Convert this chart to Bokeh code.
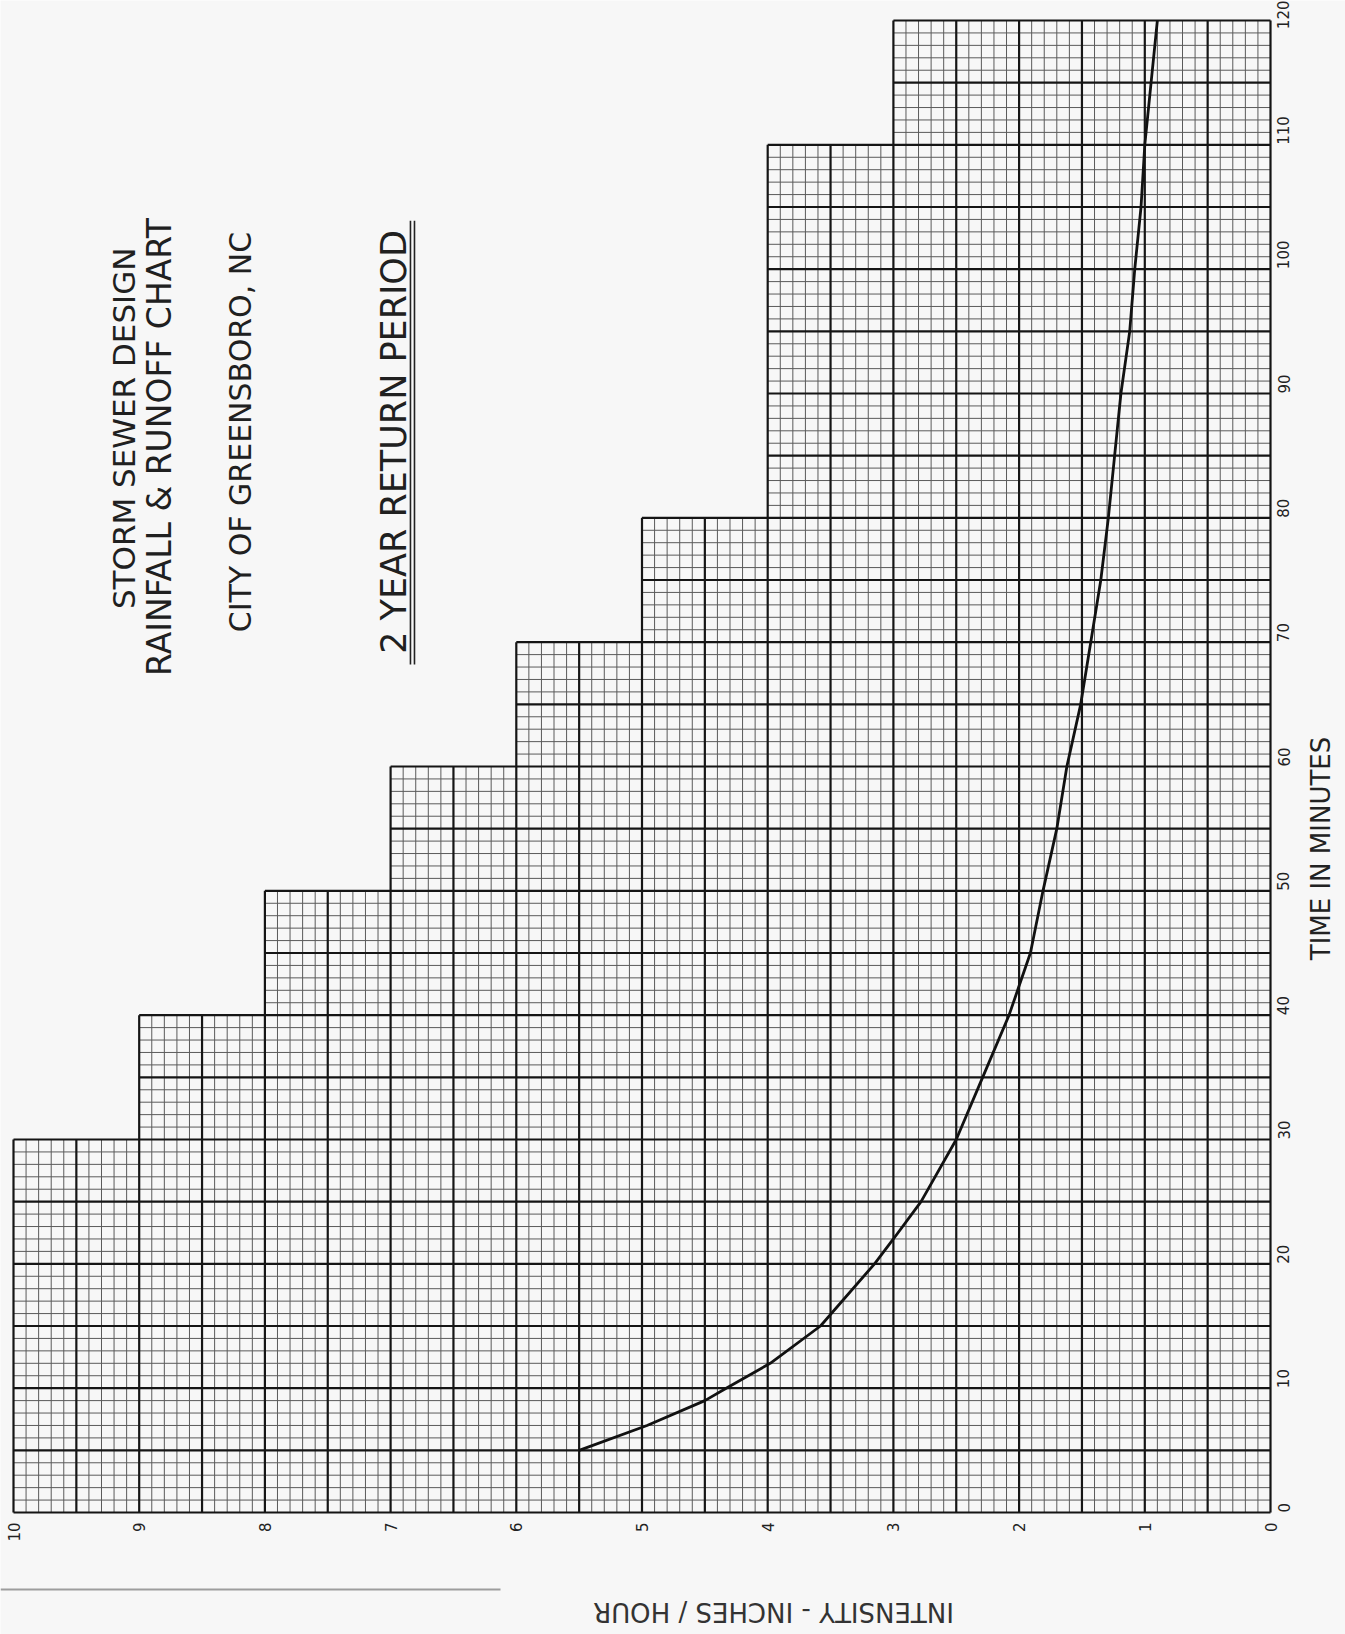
from math import pi
from bokeh.plotting import figure
from bokeh.models import (Range1d, FixedTicker, Label, ColumnDataSource,
                          BoxAnnotation, LinearAxis)
from bokeh.embed import file_html
from bokeh.resources import INLINE

# ---- data ----
time_min = [5, 7, 9, 10, 12, 15, 20, 22, 25, 30, 35, 40, 45, 50, 55, 60,
            65, 70, 75, 80, 85, 90, 95, 100, 105, 110, 115, 120]
intensity = [5.50, 4.96, 4.50, 4.33, 3.98, 3.58, 3.15, 3.00, 2.78, 2.50, 2.29,
             2.08, 1.91, 1.81, 1.70, 1.62, 1.51, 1.43, 1.35, 1.29, 1.24, 1.19,
             1.12, 1.08, 1.03, 1.00, 0.95, 0.90]

# stair-stepped graph-paper columns (intensity band -> longest time printed)
col_low = [0, 3, 4, 5, 6, 7, 8, 9]
col_high = [3, 4, 5, 6, 7, 8, 9, 10]
col_top = [120, 110, 80, 70, 60, 50, 40, 30]

x_ticks = [0, 1, 2, 3, 4, 5, 6, 7, 8, 9, 10]
y_ticks = [0, 10, 20, 30, 40, 50, 60, 70, 80, 90, 100, 110, 120]

title_lines = ["STORM SEWER DESIGN", "RAINFALL & RUNOFF CHART",
               "CITY OF GREENSBORO, NC", "2 YEAR RETURN PERIOD"]
time_title = "TIME IN MINUTES"
intensity_title = "INTENSITY - INCHES / HOUR"

# ---- build grid segments from the column table ----
def top_at(k):
    return max(t for lo, hi, t in zip(col_low, col_high, col_top)
               if lo * 10 <= k <= hi * 10)

def right_edge(m):
    return max(hi for hi, t in zip(col_high, col_top) if t >= m)

minor = dict(x0=[], y0=[], x1=[], y1=[])
major = dict(x0=[], y0=[], x1=[], y1=[])
for k in range(0, 101):
    d = major if k % 5 == 0 else minor
    d["x0"].append(k / 10); d["x1"].append(k / 10)
    d["y0"].append(0); d["y1"].append(top_at(k))
for m in range(0, max(col_top) + 1):
    d = major if m % 5 == 0 else minor
    d["x0"].append(0); d["x1"].append(right_edge(m))
    d["y0"].append(m); d["y1"].append(m)

# ---- page geometry: the scanned sheet fills the whole canvas ----
W, H = 1345, 1634
grid_left, grid_right, grid_top, grid_bottom = 13, 1270, 20, 1512
ux = (grid_right - grid_left) / 10.0     # px per in/hr
uy = (grid_bottom - grid_top) / 120.0    # px per minute
x_range = Range1d(10 + grid_left / ux, 10 - (W - grid_left) / ux)
y_range = Range1d(-(H - grid_bottom) / uy, 120 + grid_top / uy)

paper = "#f7f7f7"
ink = "#151515"

p = figure(width=W, height=H, x_range=x_range, y_range=y_range,
           output_backend="svg", toolbar_location=None,
           x_axis_location=None, y_axis_location=None,
           min_border=0)
p.background_fill_color = paper
p.border_fill_color = paper
p.outline_line_color = None
p.grid.visible = False

p.segment(x0="x0", y0="y0", x1="x1", y1="y1", source=ColumnDataSource(minor),
          line_color="#5a5a5a", line_width=1.0)
p.segment(x0="x0", y0="y0", x1="x1", y1="y1", source=ColumnDataSource(major),
          line_color=ink, line_width=2.2)

p.line(intensity, time_min, line_color="#111111", line_width=2.8)

xax = LinearAxis(fixed_location=0, ticker=FixedTicker(ticks=x_ticks))
yax = LinearAxis(fixed_location=0, ticker=FixedTicker(ticks=y_ticks))
for ax, standoff in ((xax, 10), (yax, 13)):
    ax.major_label_orientation = pi / 2
    ax.major_tick_line_color = None
    ax.minor_tick_line_color = None
    ax.major_tick_out = 0
    ax.major_tick_in = 0
    ax.minor_tick_out = 0
    ax.minor_tick_in = 0
    ax.axis_line_color = None
    ax.major_label_standoff = standoff
    ax.major_label_text_font = "DejaVu Sans"
    ax.major_label_text_font_size = "15px"
    ax.major_label_text_color = "#222222"
p.add_layout(xax, "below")
p.add_layout(yax, "right")

# axis captions
p.add_layout(Label(x=10 - (1320 - grid_left) / ux, y=(grid_bottom - 848) / uy,
                   text=time_title, angle=pi / 2,
                   text_align="center", text_baseline="middle",
                   text_font="DejaVu Sans", text_font_size="26px",
                   text_color="#222222"))
p.add_layout(Label(x=10 - (773 - grid_left) / ux, y=(grid_bottom - 1611) / uy,
                   text=intensity_title, angle=pi,
                   text_align="center", text_baseline="middle",
                   text_font="DejaVu Sans", text_font_size="26px",
                   text_color="#333333"))

# title block (rotated like the scanned sheet)
title_pos = [(9.117, 87.2), (8.838, 85.7), (8.194, 86.9), (6.969, 86.1)]
title_size = ["31px", "33px", "30px", "35px"]
for txt, (xi, yt), fs in zip(title_lines, title_pos, title_size):
    p.add_layout(Label(x=xi, y=yt, text=txt, angle=pi / 2,
                       text_align="center", text_baseline="middle",
                       text_font="DejaVu Sans", text_font_size=fs,
                       text_color="#202020"))
# double underline of the return period
p.segment(x0=[6.842, 6.810], y0=[68.2, 68.2], x1=[6.842, 6.810], y1=[103.9, 103.9],
          line_color="#222222", line_width=1.6)

# edge of the scanned sheet near the foot
p.add_layout(BoxAnnotation(left=x_range.start, right=10 - (500 - grid_left) / ux,
                           bottom=(grid_bottom - 1590) / uy,
                           top=(grid_bottom - 1588) / uy,
                           fill_color="#444444", fill_alpha=0.5,
                           line_color=None))

open("out.html", "w").write(file_html(p, INLINE))
